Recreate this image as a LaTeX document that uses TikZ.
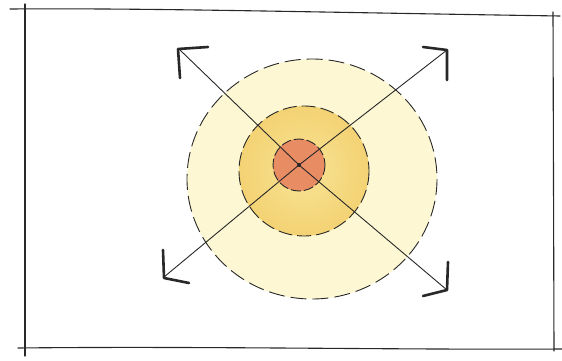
\documentclass[tikz,border=0pt]{standalone}
\usetikzlibrary{shadings}
\definecolor{paleyel}{RGB}{252,246,196}
\definecolor{midyel}{RGB}{243,210,115}
\definecolor{midlight}{RGB}{248,228,150}
\definecolor{coreor}{RGB}{232,140,100}
\definecolor{ink}{RGB}{40,40,40}
\tikzset{
  frameline/.style={ink, line width=1.1pt, line cap=round},
  ring/.style={ink, line width=0.9pt, dash pattern=on 16pt off 6pt},
  ray/.style={ink, line width=0.9pt},
  chevron/.style={ink, line width=2.6pt, line cap=round, line join=round}
}
\begin{document}
\begin{tikzpicture}[x=1pt,y=-1pt]
\useasboundingbox (0,0) rectangle (562,361);
\fill[white] (0,0) rectangle (562,361);
% frame
\draw[frameline] (10,9) .. controls (150,8) and (300,12) .. (560,16);
\draw[frameline] (25,4) -- (25,356);
\draw[frameline] (553,12) -- (554,351);
\draw[frameline] (18,348) .. controls (200,346) and (400,350) .. (562,349);
% circles
\coordinate (oc) at (312,179);
\coordinate (mc) at (304,171);
\coordinate (ic) at (299,165);
\fill[paleyel!75!white] (oc) ellipse [x radius=125, y radius=120];
\shade[inner color=midlight, outer color=midyel] (mc) circle [radius=65];
\fill[coreor] (ic) circle [radius=26];
\draw[ring] (oc) ellipse [x radius=125, y radius=120];
\draw[ring, dash pattern=on 14pt off 5pt] (mc) circle [radius=65];
\draw[ring, dash pattern=on 10pt off 3pt] (ic) circle [radius=26];
\fill[ink] (ic) circle [radius=2];
% rays
\coordinate (tl) at (180,50);
\coordinate (tr) at (447,50);
\coordinate (bl) at (164,277);
\coordinate (br) at (447,290);
\draw[ray] (tl) -- (ic) -- (br);
\draw[ray] (tr) -- (ic) -- (bl);
% chevrons
\draw[chevron] (208,47) -- (178,49) -- (180,78);
\draw[chevron] (423,47) -- (447,50) -- (447,80);
\draw[chevron] (163,250) -- (164,278) -- (189,283);
\draw[chevron] (448,262) -- (447,290) -- (423,296);
\end{tikzpicture}
\end{document}
